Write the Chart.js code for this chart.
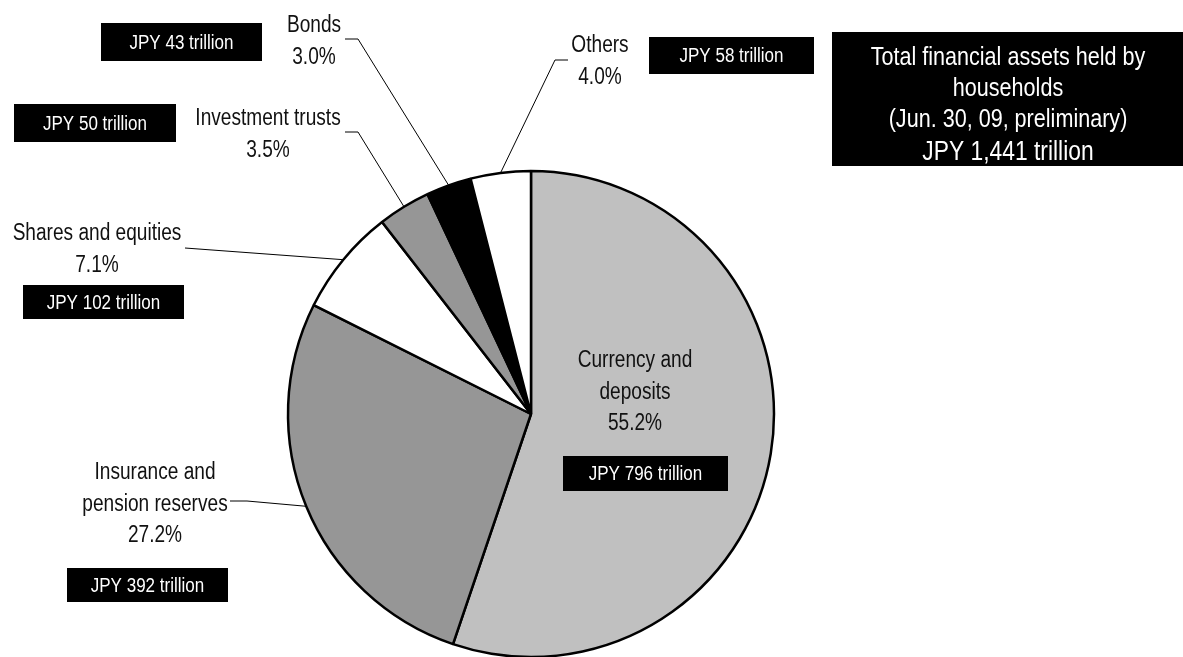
<!DOCTYPE html>
<html>
<head>
<meta charset="utf-8">
<script src="https://cdn.jsdelivr.net/npm/chart.js@4.4.1/dist/chart.umd.min.js"></script>
<style>
  html, body { margin: 0; padding: 0; background: #fff; }
  #wrap { width: 1183px; height: 657px; position: relative; }
</style>
</head>
<body>
<div id="wrap"><canvas id="pieChart" width="1183" height="657"></canvas></div>
<script>
// data (clockwise from 12 o'clock)
const categories = [
  ['Currency and', 'deposits'],
  ['Insurance and', 'pension reserves'],
  ['Shares and equities'],
  ['Investment trusts'],
  ['Bonds'],
  ['Others']
];
const shares = [55.2, 27.2, 7.1, 3.5, 3.0, 4.0];
const amounts = [796, 392, 102, 50, 43, 58];   // JPY trillion
const totalTitle = ['Total financial assets held by', 'households', '(Jun. 30, 09, preliminary)'];
const totalAmount = '1,441';

const fills = ['#c0c0c0', '#969696', '#ffffff', '#969696', '#000000', '#ffffff'];

// no Arial Narrow here, so squeeze Liberation Sans sideways
const FONT = "'Liberation Sans', Arial, sans-serif";
const NARROW = 0.83;

// where the texts go: text centre x, first line y, amount box, leader elbow
const layout = [
  { x: 635, y: 361, box: [563, 456, 165, 35] },
  { x: 155, y: 473, box: [67, 568, 161, 34], lead: [[230, 501], [247, 501]] },
  { x: 97, y: 234, box: [23, 285, 161, 34], lead: [[185, 248]] },
  { x: 268, y: 119, box: [14, 104, 162, 38], lead: [[345, 132], [358, 132]] },
  { x: 314, y: 26, box: [101, 23, 161, 38], lead: [[345, 39], [358, 39]] },
  { x: 600, y: 46, box: [649, 37, 165, 37], lead: [[568, 60], [555, 60]] }
];
const lineGap = 31.5;

function narrowText(ctx, text, x, y, size) {
  ctx.save();
  ctx.font = size + 'px ' + FONT;
  ctx.translate(x, y);
  ctx.scale(NARROW, 1);
  ctx.fillText(text, 0, 0);
  ctx.restore();
}

const labelPlugin = {
  id: 'pieLabels',
  afterDraw(chart) {
    const ctx = chart.ctx;
    const meta = chart.getDatasetMeta(0);
    ctx.save();
    ctx.textAlign = 'center';
    ctx.textBaseline = 'middle';

    meta.data.forEach((arc, i) => {
      const L = layout[i];
      const lines = categories[i].concat([shares[i].toFixed(1) + '%']);
      ctx.fillStyle = '#111';
      lines.forEach((t, k) => narrowText(ctx, t, L.x, L.y + k * lineGap, 23));

      // amount box
      const b = L.box;
      ctx.fillStyle = '#000';
      ctx.fillRect(b[0], b[1], b[2], b[3]);
      ctx.fillStyle = '#fff';
      narrowText(ctx, 'JPY ' + amounts[i] + ' trillion', b[0] + b[2] / 2, b[1] + b[3] / 2 + 1, 20.5);

      // leader line to the middle of the slice's outer edge
      if (L.lead) {
        const mid = (arc.startAngle + arc.endAngle) / 2;
        const px = arc.x + Math.cos(mid) * arc.outerRadius;
        const py = arc.y + Math.sin(mid) * arc.outerRadius;
        ctx.strokeStyle = '#000';
        ctx.lineWidth = 1;
        ctx.beginPath();
        ctx.moveTo(L.lead[0][0], L.lead[0][1]);
        for (let k = 1; k < L.lead.length; k++) ctx.lineTo(L.lead[k][0], L.lead[k][1]);
        ctx.lineTo(px, py);
        ctx.stroke();
      }
    });

    // total box, top right
    ctx.fillStyle = '#000';
    ctx.fillRect(832, 32, 351, 134);
    ctx.fillStyle = '#fff';
    totalTitle.forEach((t, k) => narrowText(ctx, t, 1008, 58 + k * 31, 26));
    narrowText(ctx, 'JPY ' + totalAmount + ' trillion', 1008, 152, 27.5);
    ctx.restore();
  }
};

new Chart(document.getElementById('pieChart'), {
  type: 'pie',
  data: {
    labels: categories.map(c => c.join(' ')),
    datasets: [{
      data: shares,
      backgroundColor: fills,
      borderColor: '#000',
      borderWidth: 2.5
    }]
  },
  options: {
    responsive: false,
    animation: false,
    radius: 243,
    layout: { padding: { left: 288, right: 409, top: 171, bottom: 0 } },
    plugins: { legend: { display: false }, tooltip: { enabled: false } }
  },
  plugins: [labelPlugin]
});
</script>
</body>
</html>
